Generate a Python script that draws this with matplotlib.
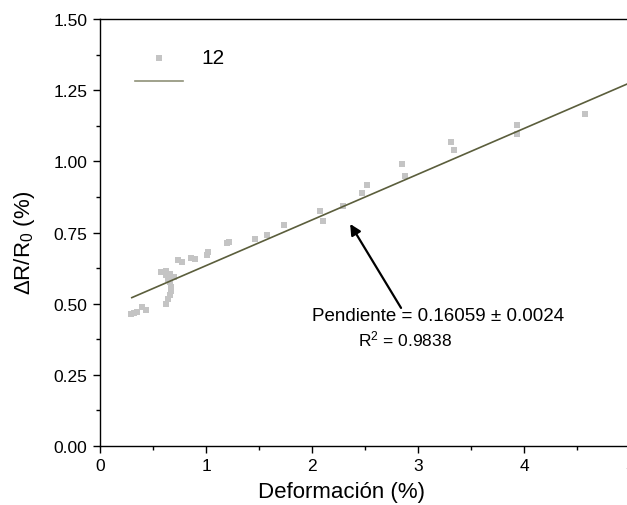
import matplotlib
matplotlib.use("Agg")
import matplotlib.pyplot as plt
from matplotlib.ticker import MultipleLocator
import numpy as np

plt.rcParams['font.family'] = ['Liberation Sans', 'DejaVu Sans']
plt.rcParams['mathtext.fontset'] = 'custom'
plt.rcParams['mathtext.rm'] = 'Liberation Sans'
plt.rcParams['mathtext.it'] = 'Liberation Sans:italic'

# Measured strain (%) and relative resistance change (%)
strain = [0.29, 0.32, 0.35, 0.40, 0.43,
          0.62, 0.64, 0.66, 0.67, 0.67, 0.66, 0.64, 0.62, 0.60, 0.58, 0.62, 0.66, 0.70,
          0.74, 0.77, 0.86, 0.90, 1.01, 1.02, 1.20, 1.22, 1.46, 1.58, 1.74,
          2.08, 2.10, 2.29, 2.47, 2.52, 2.85, 2.88, 3.31, 3.34, 3.93, 3.93, 4.58]
dR = [0.465, 0.468, 0.472, 0.490, 0.478,
      0.500, 0.515, 0.530, 0.545, 0.560, 0.575, 0.588, 0.600, 0.610, 0.612, 0.615, 0.605, 0.595,
      0.652, 0.646, 0.662, 0.658, 0.672, 0.680, 0.712, 0.717, 0.727, 0.741, 0.777,
      0.826, 0.791, 0.843, 0.890, 0.918, 0.989, 0.948, 1.068, 1.040, 1.128, 1.096, 1.165]

# Linear fit
slope = 0.16059
intercept = 0.473
fit_x = [0.3, 5.0]

fig = plt.figure(figsize=(6.27, 5.06), dpi=100)
ax = fig.add_axes([100/627, 1 - 447/506, 530/627, 427/506])

pts = ax.scatter(strain, dR, marker='s', s=14, color='#c4c4c4', linewidths=0, zorder=2)
fx = np.array(fit_x)
line, = ax.plot(fx, intercept + slope * fx, color='#5b5e3c', lw=1.2, zorder=3)

ax.set_xlim(0, 5)
ax.set_ylim(0, 1.5)
ax.xaxis.set_major_locator(MultipleLocator(1))
ax.xaxis.set_minor_locator(MultipleLocator(0.5))
ax.yaxis.set_major_locator(MultipleLocator(0.25))
ax.yaxis.set_minor_locator(MultipleLocator(0.125))
ax.yaxis.set_major_formatter(plt.FormatStrFormatter('%.2f'))
ax.tick_params(which='major', direction='out', length=5, width=1, labelsize=12.5, pad=4)
ax.tick_params(which='minor', direction='out', length=3, width=1)
ax.spines['right'].set_visible(False)
for s in ('left', 'bottom', 'top'):
    ax.spines[s].set_linewidth(1)

ax.set_xlabel('Deformación (%)', fontsize=16)
ax.xaxis.set_label_coords(0.456, -0.083)
ax.set_ylabel('ΔR/R$_0$ (%)', fontsize=16)
ax.yaxis.set_label_coords(-0.118, 0.478)

leg_line, = ax.plot([], [], color='#8f9178', lw=1.2)
ax.legend([pts, leg_line], ['12', ''], loc='upper left', frameon=False,
          fontsize=15, handlelength=2.3, handletextpad=0.9, labelspacing=0.3,
          bbox_to_anchor=(0.03, 0.975), markerscale=1.0, scatterpoints=1)

ax.annotate('', xy=(2.36, 0.78), xytext=(2.84, 0.485),
            arrowprops=dict(arrowstyle='-|>', color='black', lw=1.6,
                            mutation_scale=16, shrinkA=0, shrinkB=0))
ax.text(2.0, 0.46, 'Pendiente = 0.16059 ± 0.0024', fontsize=13.5, va='center', ha='left')
ax.text(2.43, 0.378, r'R$^2$ = 0.9838', fontsize=12.5, va='center', ha='left')

fig.savefig('out.png', dpi=100)
